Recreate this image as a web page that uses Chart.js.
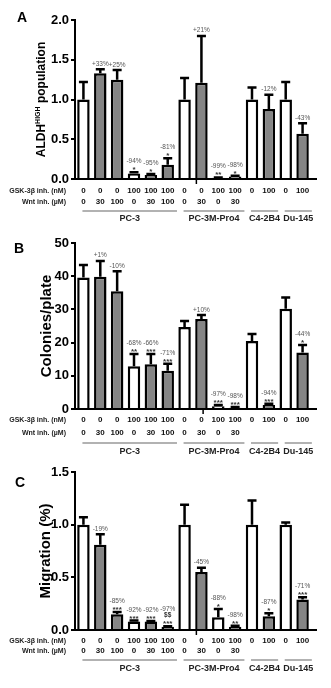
<!DOCTYPE html>
<html lang="en">
<head>
<meta charset="UTF-8">
<title>ALDH high population, colonies and migration</title>
<script src="https://cdn.jsdelivr.net/npm/chart.js"></script>
<style>
  body { margin: 0; background: #fff; }
  #wrap { position: relative; width: 331px; height: 688px; }
  #wrap canvas { position: absolute; left: 0; }
</style>
</head>
<body>
<div id="wrap">
  <canvas id="chartA" width="331" height="228" style="top:0px"></canvas>
  <canvas id="chartB" width="331" height="228" style="top:228px"></canvas>
  <canvas id="chartC" width="331" height="232" style="top:456px"></canvas>
</div>
<script>
// x axis: treatment doses and cell lines
const gskDose = ['0', '0', '0', '100', '100', '100', '0', '0', '100', '100', '0', '100', '0', '100'];
const wntDose = ['0', '30', '100', '0', '30', '100', '0', '30', '0', '30', '', '', '', ''];
const rowHeaders = ['GSK-3\u03b2 inh. (nM)', 'Wnt inh. (\u00b5M)'];
const cellLines = ['PC-3', 'PC-3M-Pro4', 'C4-2B4', 'Du-145'];
const lineFirst = [0, 6, 10, 12];
const lineLast = [5, 9, 11, 13];
const barShade = ['w', 'g', 'g', 'w', 'g', 'g', 'w', 'g', 'w', 'g', 'w', 'g', 'w', 'g'];

// A: ALDH-high population
const aldhMean = [1.0, 1.33, 1.25, 0.07, 0.05, 0.18, 1.0, 1.21, 0.015, 0.03, 1.0, 0.88, 1.0, 0.57];
const aldhErr = [0.22, 0.05, 0.12, 0.015, 0.012, 0.08, 0.27, 0.59, 0.005, 0.012, 0.15, 0.18, 0.22, 0.13];
const aldhPct = ['', '+33%', '+25%', '-94%', '-95%', '-81%', '', '+21%', '-99%', '-98%', '', '-12%', '', '-43%'];
const aldhStars = ['', '', '', '*', '*', '*', '', '', '**', '*', '', '', '', ''];

// B: colonies per plate
const colMean = [39.6, 39.8, 35.5, 12.9, 13.5, 11.5, 24.7, 27.1, 0.8, 0.4, 20.5, 1.2, 30.2, 17.0];
const colErr = [3.8, 4.8, 6.0, 3.7, 3.1, 2.1, 1.8, 1.2, 0.4, 0.2, 2.1, 0.4, 3.4, 2.3];
const colPct = ['', '+1%', '-10%', '-68%', '-66%', '-71%', '', '+10%', '-97%', '-98%', '', '-94%', '', '-44%'];
const colStars = ['', '', '', '**', '***', '***', '', '', '***', '***', '', '***', '', '*'];

// C: migration
const migMean = [1.0, 0.81, 0.15, 0.08, 0.08, 0.03, 1.0, 0.55, 0.12, 0.03, 1.0, 0.13, 1.0, 0.29];
const migErr = [0.07, 0.10, 0.02, 0.01, 0.005, 0.005, 0.19, 0.04, 0.08, 0.01, 0.23, 0.03, 0.02, 0.02];
const migPct = ['', '-19%', '-85%', '-92%', '-92%', '-97%', '', '-45%', '-88%', '-98%', '', '-87%', '', '-71%'];
const migStars = ['', '', '***', '***', '***', '$$\n***', '', '', '*', '**', '', '*', '', '***'];

const FONT = '"Liberation Sans", Arial, sans-serif';

function drawExtras(p) {
  return {
    id: 'extras',
    afterDatasetsDraw(chart) {
      const ctx = chart.ctx;
      const y = chart.scales.y;
      const meta = chart.getDatasetMeta(0);
      ctx.save();
      ctx.strokeStyle = '#000';
      ctx.lineWidth = 2.5;
      p.mean.forEach((m, i) => {
        const bx = meta.data[i].x;
        const yb = y.getPixelForValue(m);
        const yt = y.getPixelForValue(m + p.err[i]);
        ctx.beginPath();
        ctx.moveTo(bx, yb);
        ctx.lineTo(bx, yt);
        ctx.moveTo(bx - 4.5, yt);
        ctx.lineTo(bx + 4.5, yt);
        ctx.stroke();

        // significance marks and percent change
        ctx.textAlign = 'center';
        ctx.textBaseline = 'alphabetic';
        let c = yt - 5;
        const lines = p.stars[i] ? p.stars[i].split('\n').reverse() : [];
        ctx.fillStyle = '#333';
        lines.forEach(s => {
          const star = /^\*+$/.test(s);
          ctx.font = (star ? 'bold 8px ' : 'bold 6.5px ') + FONT;
          ctx.fillText(s, bx, c + (star ? 5 : 2.5));
          c -= 6.5;
        });
        if (p.pct[i]) {
          ctx.font = '6.5px ' + FONT;
          ctx.fillStyle = '#555';
          ctx.fillText(p.pct[i], bx, c + (lines.length ? 2.5 : 1.5));
        }
      });
      ctx.restore();
    },
    afterDraw(chart) {
      const ctx = chart.ctx;
      const xs = chart.scales.x;
      const area = chart.chartArea;
      const b = area.bottom;
      ctx.save();

      // axis runs a little past the last bar, plus a small tick below it
      ctx.strokeStyle = '#000';
      ctx.lineWidth = 2;
      ctx.beginPath();
      ctx.moveTo(area.right - 1, b);
      ctx.lineTo(area.right + 6, b);
      ctx.stroke();
      ctx.lineWidth = 1.5;
      const tx = xs.getPixelForValue(6) + (xs.getPixelForValue(7) - xs.getPixelForValue(6)) * p.tickAt;
      ctx.beginPath();
      ctx.moveTo(tx, b);
      ctx.lineTo(tx, b + 5);
      ctx.stroke();

      // dose rows
      ctx.fillStyle = '#111';
      ctx.textBaseline = 'middle';
      ctx.textAlign = 'center';
      ctx.font = 'bold 8px ' + FONT;
      gskDose.forEach((t, i) => {
        const x = xs.getPixelForValue(i);
        ctx.fillText(t, x, b + p.rows[0]);
        ctx.fillText(wntDose[i], x, b + p.rows[1]);
      });
      ctx.textAlign = 'right';
      ctx.font = 'bold 7px ' + FONT;
      ctx.fillStyle = '#222';
      ctx.fillText(rowHeaders[0], 66, b + p.rows[0]);
      ctx.fillText(rowHeaders[1], 66, b + p.rows[1]);

      // cell line brackets
      const step = xs.getPixelForValue(1) - xs.getPixelForValue(0);
      ctx.strokeStyle = '#999';
      ctx.lineWidth = 1.5;
      ctx.fillStyle = '#222';
      ctx.textAlign = 'center';
      ctx.font = 'bold 9px ' + FONT;
      cellLines.forEach((name, g) => {
        const x0 = xs.getPixelForValue(lineFirst[g]) - 1;
        const x1 = xs.getPixelForValue(lineLast[g]) + step * 0.55;
        ctx.beginPath();
        ctx.moveTo(x0, b + p.rows[2]);
        ctx.lineTo(x1, b + p.rows[2]);
        ctx.stroke();
        ctx.fillText(name, (x0 + x1) / 2, b + p.rows[3]);
      });

      // panel letter
      ctx.textAlign = 'left';
      ctx.fillStyle = '#000';
      ctx.font = 'bold 14px ' + FONT;
      ctx.fillText(p.letter, p.letterX, p.letterY);

      // y axis title
      const yc = (area.top + area.bottom) / 2;
      ctx.translate(p.titleX, yc);
      ctx.rotate(-Math.PI / 2);
      ctx.textAlign = 'left';
      ctx.textBaseline = 'alphabetic';
      const big = 'bold ' + p.titleSize + 'px ' + FONT;
      const small = 'bold 7px ' + FONT;
      ctx.font = big;
      const w1 = ctx.measureText(p.title[0]).width;
      const w3 = ctx.measureText(p.title[2]).width;
      ctx.font = small;
      const w2 = ctx.measureText(p.title[1]).width;
      let x = -(w1 + w2 + w3) / 2;
      const base = p.titleSize * 0.36;
      ctx.font = big;
      ctx.fillText(p.title[0], x, base);
      x += w1;
      ctx.font = small;
      ctx.fillText(p.title[1], x, base - p.titleSize * 0.45);
      x += w2;
      ctx.font = big;
      ctx.fillText(p.title[2], x, base);
      ctx.restore();
    }
  };
}

function makePanel(id, p) {
  const canvas = document.getElementById(id);
  const h = canvas.height;
  return new Chart(canvas, {
    type: 'bar',
    data: {
      labels: gskDose,
      datasets: [{
        data: p.mean,
        backgroundColor: barShade.map(s => s === 'w' ? '#ffffff' : '#858585'),
        borderColor: '#000',
        borderWidth: 2.5,
        barPercentage: 0.74,
        categoryPercentage: 1
      }]
    },
    options: {
      responsive: false,
      animation: false,
      devicePixelRatio: 1,
      layout: { padding: { left: 0, right: 20, top: p.top, bottom: h - p.bottom } },
      plugins: { legend: { display: false }, tooltip: { enabled: false } },
      scales: {
        x: {
          ticks: { display: false },
          grid: { display: false },
          border: { display: true, color: '#000', width: 2 },
          afterFit: s => { s.height = 0; }
        },
        y: {
          min: 0,
          max: p.max,
          ticks: {
            stepSize: p.stepSize,
            padding: 2,
            color: '#000',
            font: { family: FONT, size: 13, weight: 'bold' },
            callback: v => p.decimals ? v.toFixed(1) : String(v)
          },
          grid: { display: true, drawOnChartArea: false, drawTicks: true, tickLength: 4, color: '#000', lineWidth: 2 },
          border: { display: true, color: '#000', width: 2 },
          afterFit: s => { s.width = 75; }
        }
      }
    },
    plugins: [drawExtras(p)]
  });
}

makePanel('chartA', {
  mean: aldhMean, err: aldhErr, pct: aldhPct, stars: aldhStars,
  max: 2, stepSize: 0.5, decimals: true, top: 20, bottom: 179,
  rows: [12, 23, 32, 40], tickAt: 0.7,
  letter: 'A', letterX: 17, letterY: 18,
  title: ['ALDH', 'HIGH', ' population'], titleX: 41, titleSize: 12
});
makePanel('chartB', {
  mean: colMean, err: colErr, pct: colPct, stars: colStars,
  max: 50, stepSize: 10, decimals: false, top: 15, bottom: 181,
  rows: [11, 24, 34, 43], tickAt: 1.1,
  letter: 'B', letterX: 14, letterY: 21,
  title: ['Colonies/plate', '', ''], titleX: 46, titleSize: 15
});
makePanel('chartC', {
  mean: migMean, err: migErr, pct: migPct, stars: migStars,
  max: 1.5, stepSize: 0.5, decimals: true, top: 16, bottom: 174,
  rows: [11, 21, 30, 39], tickAt: 0.7,
  letter: 'C', letterX: 15, letterY: 27,
  title: ['Migration (%)', '', ''], titleX: 45, titleSize: 15
});
</script>
</body>
</html>
